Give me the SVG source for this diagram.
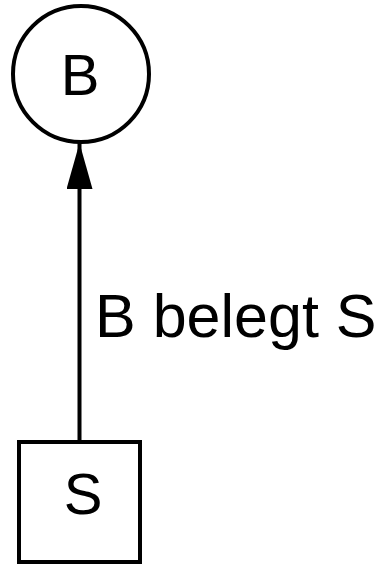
<svg xmlns="http://www.w3.org/2000/svg" width="376" height="564" viewBox="0 0 376 564">
  <style>
    .shape { fill: #fff; stroke: #000; stroke-width: 4; }
    .label { font-family: "Liberation Sans", Arial, sans-serif; font-size: 58px; fill: #000; }
    .edge { stroke: #000; stroke-width: 4; fill: none; }
  </style>
  <defs>
    <marker id="arrow" markerUnits="userSpaceOnUse" markerWidth="46" markerHeight="26" refX="46" refY="13" viewBox="0 0 46 26" orient="auto">
      <path d="M0,0 L46,13 L0,26 Z" fill="#000"/>
    </marker>
  </defs>
  <g id="connectors">
    <line class="edge" x1="79.5" y1="441" x2="79.5" y2="143" marker-end="url(#arrow)"/>
    <text class="label" x="95" y="337" style="font-size:61px">B belegt S</text>
  </g>
  <g id="node-B">
    <circle class="shape" cx="81" cy="74" r="68"/>
    <text class="label" x="80" y="95" text-anchor="middle">B</text>
  </g>
  <g id="node-S">
    <rect class="shape" x="19" y="442" width="121" height="120"/>
    <text class="label" x="83" y="514" text-anchor="middle">S</text>
  </g>
</svg>
